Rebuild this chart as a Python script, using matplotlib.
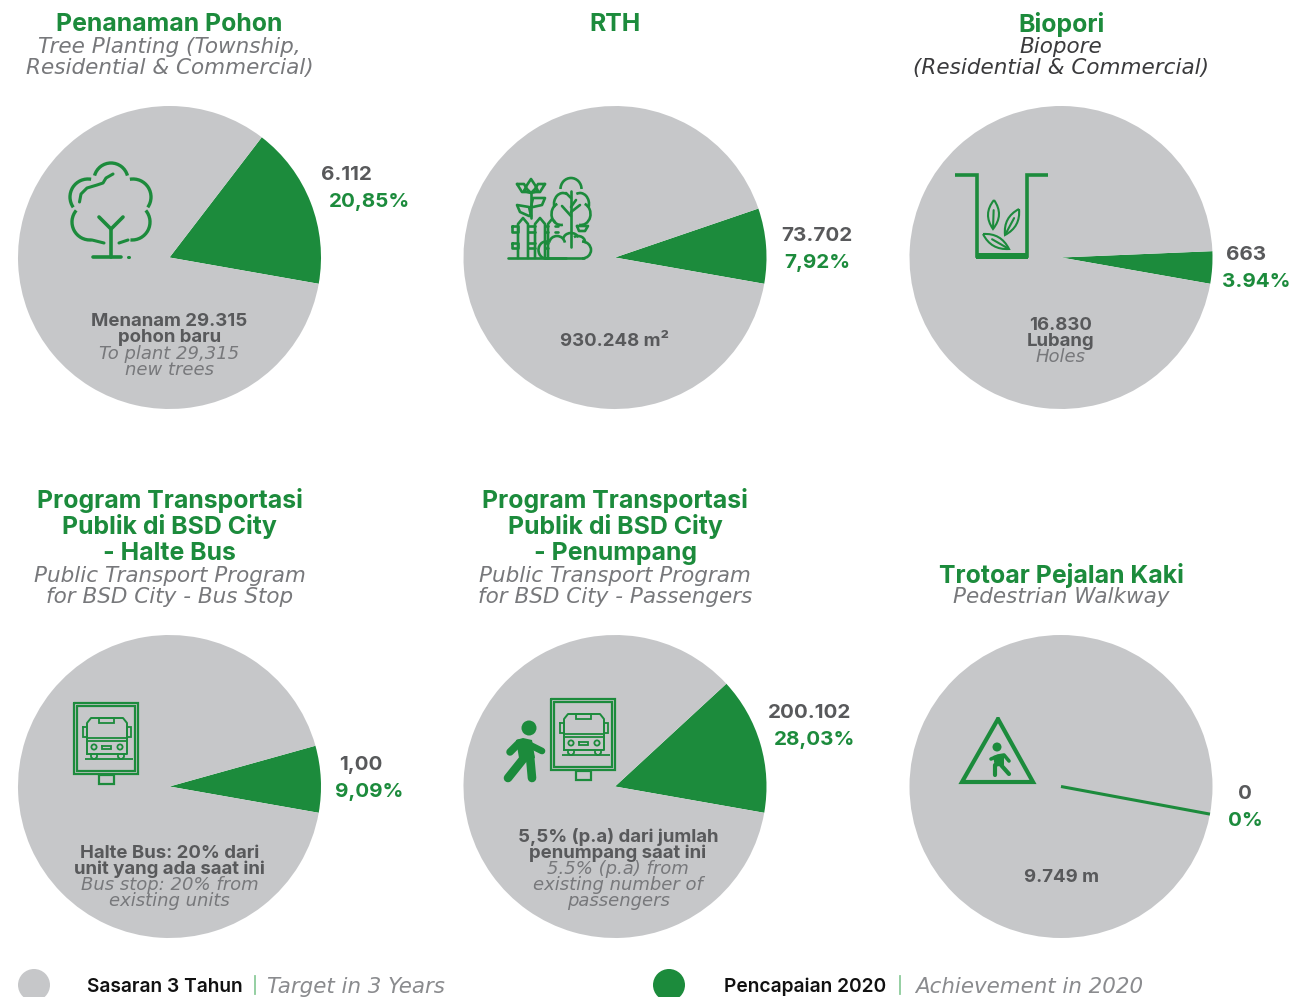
import numpy as np
import matplotlib
matplotlib.use("Agg")
import matplotlib.pyplot as plt
from matplotlib.patches import Circle, Polygon, Rectangle, Arc, PathPatch
from matplotlib.path import Path

GREEN = "#1C8B3C"
GREY = "#C6C7C9"
DARK = "#58595B"
ITAL = "#77787B"

BOLD_FONT = "Inter"
ITAL_FONT = "DejaVu Sans"

# data
titles = ["Penanaman Pohon", "RTH", "Biopori",
          "Program Transportasi\nPublik di BSD City\n- Halte Bus",
          "Program Transportasi\nPublik di BSD City\n- Penumpang",
          "Trotoar Pejalan Kaki"]
subtitles = ["Tree Planting (Township,\nResidential & Commercial)", "",
             "Biopore\n(Residential & Commercial)",
             "Public Transport Program\nfor BSD City - Bus Stop",
             "Public Transport Program\nfor BSD City - Passengers",
             "Pedestrian Walkway"]
slice_degrees = [62.5, 28.85, 12.4, 25.6, 52.7, 0.0]
value_labels = ["6.112", "73.702", "663", "1,00", "200.102", "0"]
pct_labels = ["20,85%", "7,92%", "3.94%", "9,09%", "28,03%", "0%"]
target_bold = ["Menanam 29.315\npohon baru", "930.248 m²", "16.830\nLubang",
               "Halte Bus: 20% dari\nunit yang ada saat ini",
               "5,5% (p.a) dari jumlah\npenumpang saat ini", "9.749 m"]
target_ital = ["To plant 29,315\nnew trees", "", "Holes",
               "Bus stop: 20% from\nexisting units",
               "5.5% (p.a) from\nexisting number of\npassengers", ""]
legend_bold = ["Sasaran 3 Tahun", "Pencapaian 2020"]
legend_ital = ["Target in 3 Years", "Achievement in 2020"]

W, H = 1291, 997
fig = plt.figure(figsize=(W / 100, H / 100), dpi=100)
ax = fig.add_axes([0, 0, 1, 1])


def Y(p):
    return H - p


centers = [(169.5, 257.5), (615, 257.5), (1061, 257.5),
           (169.5, 786.5), (615, 786.5), (1061, 786.5)]
R = 151.5
START = -10

for (cx, cy), deg in zip(centers, slice_degrees):
    ax.pie([deg, 360 - deg], colors=[GREEN, GREY], startangle=START,
           center=(cx, Y(cy)), radius=R, counterclock=True,
           wedgeprops=dict(linewidth=0))
ax.set_xlim(0, W)
ax.set_ylim(0, H)
ax.set_aspect("equal")
ax.axis("off")

# zero-value spoke of the last pie
cx, cy = centers[5]
a = np.deg2rad(START - 0.5)
ax.plot([cx, cx + R * np.cos(a)], [Y(cy), Y(cy) + R * np.sin(a)], color=GREEN, lw=2.2,
        solid_capstyle="butt")


def bold(x, y, s, size, color=DARK):
    ax.text(x, Y(y - 1), s, fontsize=size, color=color, ha="center", va="center_baseline",
            family=BOLD_FONT, fontweight="bold")


def ital(x, y, s, size, color=ITAL):
    ax.text(x, Y(y - 1), s, fontsize=size, color=color, ha="center", va="center_baseline",
            family=ITAL_FONT, style="italic")


def stack(x, ys, s, fn, *args, **kw):
    for yy, line in zip(ys, s.split("\n")):
        fn(x, yy, line, *args, **kw)


# titles
TS = 17.9
SS = 15.5
title_ys = [[23], [23], [23], [499, 525, 552], [499, 525, 552], [574]]
sub_ys = [[46, 67], [], [46, 67], [575, 596], [575, 596], [596]]
for i, (cx, _) in enumerate(centers):
    stack(cx, title_ys[i], titles[i], bold, TS, GREEN)
    if subtitles[i]:
        stack(cx, sub_ys[i], subtitles[i], ital, SS, "#3A3A3C" if i == 2 else ITAL)

# value labels
val_pos = [(346.5, 174), (817, 235), (1246.5, 254), (361, 764), (810, 712), (1245, 793)]
pct_pos = [(370, 201), (817, 262), (1256, 281), (369, 791), (815, 739), (1245, 820)]
for (x, y), s in zip(val_pos, value_labels):
    bold(x, y, s, 14.8)
for (x, y), s in zip(pct_pos, pct_labels):
    bold(x, y, s, 14.8, GREEN)

# text in pies
tb_pos = [(169.5, [321, 337]), (615, [340]), (1061, [324, 340]),
          (169.5, [852, 868]), (618, [836, 852]), (1061, [877])]
ti_pos = [(169.5, [353, 369]), (615, []), (1061, [356]),
          (169.5, [884, 900]), (618, [868, 884, 900]), (1061, [])]
for (x, ys), s in zip(tb_pos, target_bold):
    stack(x, ys, s, bold, 13.4)
for (x, ys), s in zip(ti_pos, target_ital):
    if s:
        stack(x, ys, s, ital, 13.0)

# legend
ax.add_patch(Circle((34, Y(985)), 16, color=GREY, lw=0))
ax.add_patch(Circle((669, Y(985)), 16, color=GREEN, lw=0))
for x, bs, ix, s_i in [(164.5, legend_bold[0], 356, legend_ital[0]),
                       (805, legend_bold[1], 1029, legend_ital[1])]:
    ax.text(x, Y(985), bs, fontsize=13.8, color="#111111", ha="center", va="center_baseline",
            family=BOLD_FONT, fontweight="semibold")
    ax.text(ix, Y(985), s_i, fontsize=15.4, color="#8A8B8E", ha="center", va="center_baseline",
            family=ITAL_FONT, style="italic")
ax.plot([255, 255], [Y(976), Y(994)], color="#8CCB9B", lw=1.3)
ax.plot([900, 900], [Y(976), Y(994)], color="#8CCB9B", lw=1.3)


# ---- icons (decorative pictograms, pixel coordinates) ----
def L(pts, lw=2.4, cap="round", join="round", closed=False):
    p = list(pts)
    if closed:
        p = p + [p[0]]
    ax.plot([q[0] for q in p], [Y(q[1]) for q in p], color=GREEN, lw=lw,
            solid_capstyle=cap, solid_joinstyle=join)


def A(x, y, w, h, t1, t2, lw=2.4):
    ax.add_patch(Arc((x, Y(y)), w, h, theta1=t1, theta2=t2, color=GREEN, lw=lw))


def RC(x0, y0, x1, y1, lw=1.6):
    L([(x0, y0), (x1, y0), (x1, y1), (x0, y1)], lw=lw, closed=True, join="miter")


def leaf(p0, p1, bulge, lw=1.5):
    """Leaf outline between tip p0 and base p1, with a short midrib."""
    p0 = np.array(p0, float)
    p1 = np.array(p1, float)
    d = p1 - p0
    n = np.array([-d[1], d[0]]) / np.hypot(*d) * bulge
    m = (p0 + p1) / 2
    verts = [p0, m + n, p1, m - n, p0]
    verts = [(v[0], Y(v[1])) for v in verts]
    codes = [Path.MOVETO, Path.CURVE3, Path.CURVE3, Path.CURVE3, Path.CURVE3]
    ax.add_patch(PathPatch(Path(verts, codes), fill=False, ec=GREEN, lw=lw))
    q0 = p0 + d * 0.35
    q1 = p0 + d * 0.95
    L([q0, q1], lw=lw)


# tree
A(111, 180, 34, 34, 15, 165)
A(88, 197, 36, 36, 80, 215)
A(133, 197, 36, 36, -35, 100)
A(90, 222, 36, 36, 140, 275)
A(132, 222, 36, 36, -95, 40)
L([(79.5, 202), (81, 194), (87, 188), (97, 185), (103, 183), (106, 178), (113, 174)], lw=2.2)
L([(92, 240), (104, 243)], lw=2.2)
L([(119, 243), (128, 240)], lw=2.2)
L([(111, 257), (111, 230)], lw=2.6)
L([(99, 217), (111, 229), (123, 217)], lw=2.6)
L([(93, 257), (121, 257)], lw=2.6)
L([(128, 257), (129, 257)], lw=2.2)

# garden: fence
lw = 1.9
L([(508, 258.5), (566, 258.5)], lw=lw)
for x0 in (518, 535):
    L([(x0, 258), (x0, 224), (x0 + 5, 218), (x0 + 10, 224), (x0 + 10, 258)], lw=lw)
L([(548, 258), (548, 224), (552, 219), (555, 222)], lw=lw)
L([(512, 226), (518, 226), (518, 232), (512, 232)], lw=lw, closed=True)
L([(512, 243), (518, 243), (518, 248), (512, 248)], lw=lw, closed=True)
for yy in (226, 232, 243, 248):
    L([(528, yy), (535, yy)], lw=lw)
    L([(545, yy), (548, yy)], lw=lw)
L([(555, 226), (558, 226)], lw=lw)
L([(555, 232), (558, 232)], lw=lw)
# garden: flower
L([(531, 218), (531, 192)], lw=lw)
L([(524, 191), (527, 185), (531, 179), (535, 185), (538, 191), (531, 193)], lw=lw, closed=True)
L([(517, 184), (524, 184), (527, 189), (530, 192), (522, 192)], lw=lw, closed=True)
L([(545, 184), (538, 184), (535, 189), (532, 192), (540, 192)], lw=lw, closed=True)
L([(531, 207), (533, 198), (545, 198), (542, 205), (533, 207)], lw=lw, closed=True)
L([(531, 216), (529, 207), (517, 205), (520, 212), (529, 216)], lw=lw, closed=True)
# garden: tree
A(571, 189, 21, 22, 0, 180, lw=lw)
A(563, 204, 18, 22, 70, 200, lw=lw)
A(580, 204, 18, 22, -20, 110, lw=lw)
A(561, 214, 19, 22, 110, 280, lw=lw)
A(581, 214, 19, 22, -100, 70, lw=lw)
L([(571, 247), (571, 191)], lw=lw)
L([(571, 198), (566, 193)], lw=lw)
L([(571, 207), (576, 200)], lw=lw)
L([(571, 216), (562, 206)], lw=lw)
L([(571, 212), (580, 205)], lw=lw)
L([(577, 226), (588, 226), (585, 231), (579, 231)], lw=lw, closed=True)
# garden: bush
L([(545, 258), (584, 258)], lw=lw)
A(546, 250, 15, 17, 70, 290, lw=lw)
A(557, 244, 16, 16, 10, 170, lw=lw)
A(571, 240, 16, 14, 20, 170, lw=lw)
A(582, 250, 18, 17, -90, 90, lw=lw)
A(578, 242, 14, 12, -10, 130, lw=lw)

# biopore
L([(955, 175.5), (977, 175.5), (977, 256), (1026.5, 256), (1026.5, 175.5), (1048, 175.5)],
  lw=2.6, join="miter", cap="butt")
ax.add_patch(Rectangle((976, Y(259.5)), 52, 6, color=GREEN, lw=0))
leaf((994, 200), (993, 229), 11)
leaf((1019, 209), (1005, 235), 10)
leaf((983, 234), (1009, 249), 10)


def bus_sign(x0, y0):
    """Bus stop sign with its upper left corner at x0, y0."""
    RC(x0, y0, x0 + 64, y0 + 71)
    RC(x0 + 3, y0 + 3, x0 + 61, y0 + 68)
    RC(x0 + 25, y0 + 72, x0 + 40, y0 + 81)
    L([(x0 + 11, y0 + 56), (x0 + 59, y0 + 56)], lw=1.3, cap="butt")
    L([(x0 + 13, y0 + 51), (x0 + 13, y0 + 20), (x0 + 17, y0 + 15), (x0 + 49, y0 + 15),
       (x0 + 53, y0 + 20), (x0 + 53, y0 + 51), (x0 + 13, y0 + 51)], lw=1.4)
    L([(x0 + 13, y0 + 35), (x0 + 53, y0 + 35)], lw=1.3)
    L([(x0 + 13, y0 + 38), (x0 + 53, y0 + 38)], lw=1.3)
    RC(x0 + 25, y0 + 15, x0 + 40, y0 + 20, lw=1.3)
    RC(x0 + 9, y0 + 24, x0 + 13, y0 + 34, lw=1.3)
    RC(x0 + 53, y0 + 24, x0 + 57, y0 + 34, lw=1.3)
    RC(x0 + 28, y0 + 43, x0 + 37, y0 + 46, lw=1.3)
    for dx in (20, 46):
        ax.add_patch(Circle((x0 + dx, Y(y0 + 44)), 2.6, fill=False, ec=GREEN, lw=1.3))
    for dx in (17, 44):
        L([(x0 + dx, y0 + 51), (x0 + dx, y0 + 54), (x0 + dx + 2, y0 + 56),
           (x0 + dx + 4, y0 + 56), (x0 + dx + 6, y0 + 54), (x0 + dx + 6, y0 + 51)], lw=1.3)


bus_sign(74, 703)
bus_sign(551, 699)

# walking person next to the bus stop
hx, hy = 529, 728
ax.add_patch(Circle((hx, Y(hy)), 7.5, color=GREEN, lw=0))
ax.add_patch(Polygon([(hx - 13, Y(hy + 12)), (hx - 6, Y(hy + 10)), (hx + 3, Y(hy + 12)), (hx + 6, Y(hy + 30)),
                      (hx - 9, Y(hy + 36))], color=GREEN, lw=0))
L([(hx - 10, hy + 15), (hx - 19, hy + 24)], lw=5.4)
L([(hx + 1, hy + 17), (hx + 13, hy + 23)], lw=4.8)
L([(hx - 5, hy + 30), (hx - 21, hy + 50)], lw=6.2)
L([(hx + 1, hy + 28), (hx + 3, hy + 50)], lw=6.2)

# pedestrian triangle
L([(998, 719), (1033, 782), (962, 782)], lw=3.0, closed=True, join="miter")
ax.add_patch(Circle((997, Y(747)), 4.5, color=GREEN, lw=0))
L([(991, 759), (998, 756), (1004, 755), (1009, 761)], lw=2.6)
ax.add_patch(Polygon([(993, Y(756)), (1004, Y(754)), (1004, Y(765)), (995, Y(767))], color=GREEN, lw=0))
L([(995, 765), (995, 775)], lw=3.0)
L([(1001, 765), (1009, 774)], lw=3.0)

fig.savefig("out.png", dpi=100)
